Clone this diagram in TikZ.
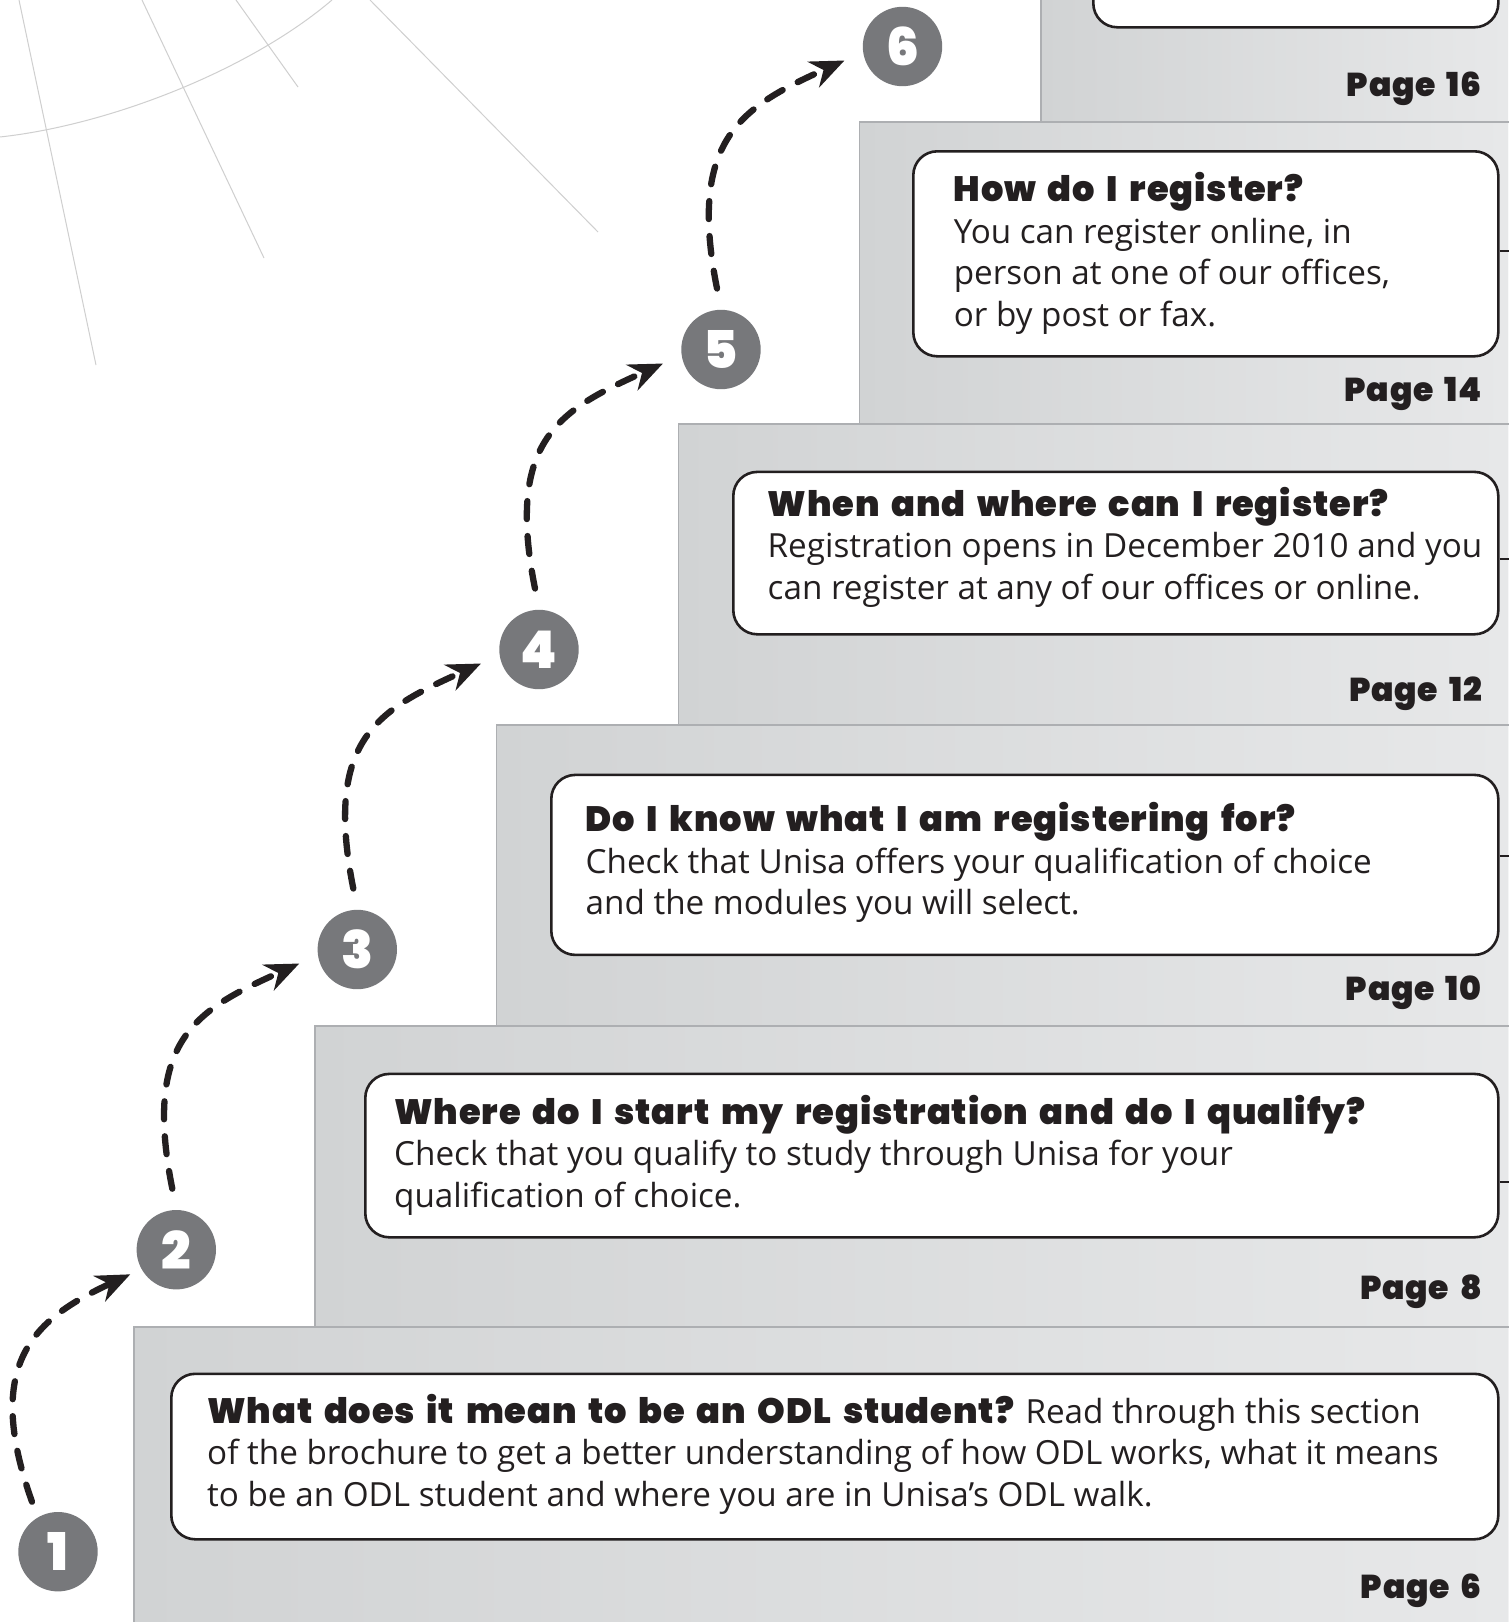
\documentclass[tikz,border=0pt]{standalone}
\usepackage{fontspec}
\usetikzlibrary{arrows.meta}
\setmainfont{Open Sans}
\newfontfamily\bodyfont{Open Sans}
\IfFontExistsTF{Poppins Black}{\newfontfamily\headfont{Poppins Black}[LetterSpace=2.5,WordSpace=1.7]}{\newfontfamily\headfont{Liberation Sans}[FakeBold=2]}
\definecolor{ink}{HTML}{231F20}
\definecolor{circ}{HTML}{77787B}
\definecolor{panelL}{HTML}{D1D3D4}
\definecolor{panelR}{HTML}{E7E8E9}
\definecolor{edgegray}{HTML}{ADAFB2}
\definecolor{faint}{HTML}{CFCFCF}
\newlength\calw
\newcommand\calib{%
  \settowidth\calw{\bodyfont\fontsize{10pt}{12pt}\selectfont Check that Unisa offers your qualification of choice}%
  \pgfmathsetmacro\bodysz{10*786/\calw}%
  \settowidth\calw{\headfont\fontsize{10pt}{12pt}\selectfont Where do I start my registration and do I qualify?}%
  \pgfmathsetmacro\headsz{10*971/\calw}%
  \settowidth\calw{\headfont\fontsize{10pt}{12pt}\selectfont Page 16}%
  \pgfmathsetmacro\pagesz{10*135/\calw}%
}
\AtBeginDocument{\calib}
\newcommand\hd[1]{{\headfont\fontsize{\headsz pt}{41.5pt}\selectfont #1}}
\begin{document}
\begin{tikzpicture}[x=1pt,y=-1pt,
  faintline/.style={faint, line width=1pt},
  panelfill/.style={left color=panelL, right color=panelR},
  paneledge/.style={edgegray, line width=1.6pt},
  infobox/.style={draw=ink, line width=2.6pt, fill=white, rounded corners=24pt, inner sep=0pt, anchor=north west},
  stub/.style={ink, line width=2pt},
  stepcirc/.style={circle, fill=circ, minimum size=79.4pt, inner sep=0pt, text=white, font=\headfont\fontsize{52pt}{52pt}\selectfont},
  hop/.style={ink, line width=6.3pt, line cap=round, dash pattern=on 18pt off 17pt, -{Stealth[length=34pt,width=28pt,inset=11pt]}},
  txt/.style={anchor=base west, inner sep=0pt, text=ink, font=\bodyfont\fontsize{\bodysz pt}{41.5pt}\selectfont},
  pagelbl/.style={anchor=base east, inner sep=0pt, text=ink, font=\headfont\fontsize{\pagesz pt}{\pagesz pt}\selectfont}
]
\useasboundingbox (0,0) rectangle (1508,1622);
\fill[white] (0,0) rectangle (1508,1622);
% faint background lines
\draw[faintline] (19,0) -- (96,365);
\draw[faintline] (142,0) -- (264,258);
\draw[faintline] (236,0) -- (298,87);
\draw[faintline] (370,0) -- (598,232);
\draw[faintline] (0,137) .. controls (110,125) and (250,70) .. (332,0);
% panels (top to bottom)
\path[panelfill] (1041,-20) rectangle (1508,1640);
\draw[paneledge] (1041,1640) -- (1041,-20);
\path[panelfill] (859.5,122) rectangle (1508,1640);
\draw[paneledge] (859.5,1640) -- (859.5,122) -- (1512,122);
\path[panelfill] (678.5,424) rectangle (1508,1640);
\draw[paneledge] (678.5,1640) -- (678.5,424) -- (1512,424);
\path[panelfill] (496.5,725) rectangle (1508,1640);
\draw[paneledge] (496.5,1640) -- (496.5,725) -- (1512,725);
\path[panelfill] (315,1026) rectangle (1508,1640);
\draw[paneledge] (315,1640) -- (315,1026) -- (1512,1026);
\path[panelfill] (134,1327) rectangle (1508,1640);
\draw[paneledge] (134,1640) -- (134,1327) -- (1512,1327);
% boxes
\node[infobox, minimum width=405pt, minimum height=226pt] (b6) at (1092,-200) {};
\node[infobox, minimum width=585pt, minimum height=205pt] (b5) at (912,150) {};
\node[infobox, minimum width=765pt, minimum height=162.4pt] (b4) at (732,470.6) {};
\node[infobox, minimum width=947pt, minimum height=180pt] (b3) at (550,773.6) {};
\node[infobox, minimum width=1133pt, minimum height=163.4pt] (b2) at (364,1072.6) {};
\node[infobox, minimum width=1327pt, minimum height=165.5pt] (b1) at (170,1372.5) {};
% stubs
\coordinate (s5) at (1510,251);
\coordinate (s4) at (1510,558.5);
\coordinate (s3) at (1510,856);
\coordinate (s2) at (1510,1182);
\draw[stub] (b5.east |- s5) -- (s5);
\draw[stub] (b4.east |- s4) -- (s4);
\draw[stub] (b3.east |- s3) -- (s3);
\draw[stub] (b2.east |- s2) -- (s2);
% texts
\node[txt] (t5) at (953.6,201.7) {\begin{tabular}[t]{@{}l@{}}\hd{How do I register?}\\You can register online, in\\person at one of our offices,\\or by post or fax.\end{tabular}};
\node[txt] (t4) at (767.5,516) {\begin{tabular}[t]{@{}l@{}}\hd{When and where can I register?}\\Registration opens in December 2010 and you\\can register at any of our offices or online.\end{tabular}};
\node[txt] (t3) at (585.5,831.5) {\begin{tabular}[t]{@{}l@{}}\hd{Do I know what I am registering for?}\\Check that Unisa offers your qualification of choice\\and the modules you will select.\end{tabular}};
\node[txt] (t2) at (394,1124) {\begin{tabular}[t]{@{}l@{}}\hd{Where do I start my registration and do I qualify?}\\Check that you qualify to study through Unisa for your\\qualification of choice.\end{tabular}};
\node[txt] (t1) at (207,1423) {\begin{tabular}[t]{@{}l@{}}\hd{What does it mean to be an ODL student?} Read through this section\\of the brochure to get a better understanding of how ODL works, what it means\\to be an ODL student and where you are in Unisa’s ODL walk.\end{tabular}};
% page labels
\node[pagelbl] (p6) at (1482,1598) {Page 6};
\node[pagelbl] (p8) at (1482,1299) {Page 8};
\node[pagelbl] (p10) at (1482,1000) {Page 10};
\node[pagelbl] (p12) at (1482,701) {Page 12};
\node[pagelbl] (p14) at (1482,401) {Page 14};
\node[pagelbl] (p16) at (1482,96) {Page 16};
% step circles
\node[stepcirc] (c1) at (58,1551.7) {1};
\node[stepcirc] (c2) at (176.3,1249.7) {2};
\node[stepcirc] (c3) at (357.3,949.5) {3};
\node[stepcirc] (c4) at (539,649.5) {4};
\node[stepcirc] (c5) at (721,349.5) {5};
\node[stepcirc] (c6) at (902.5,46.5) {6};
% dashed arrows
\draw[hop] ([shift={(-26,-50)}]c1.center) .. controls +(-50,-140) and +(-95,44) .. ([shift={(-46,24.6)}]c2.center);
\draw[hop] ([shift={(-4,-61)}]c2.center) .. controls +(-30,-150) and +(-102,46) .. ([shift={(-58,14)}]c3.center);
\draw[hop] ([shift={(-4,-61)}]c3.center) .. controls +(-30,-150) and +(-102,46) .. ([shift={(-58,14)}]c4.center);
\draw[hop] ([shift={(-4,-61)}]c4.center) .. controls +(-30,-150) and +(-102,46) .. ([shift={(-58,14)}]c5.center);
\draw[hop] ([shift={(-4,-61)}]c5.center) .. controls +(-30,-150) and +(-102,46) .. ([shift={(-58,14)}]c6.center);
\end{tikzpicture}
\end{document}
